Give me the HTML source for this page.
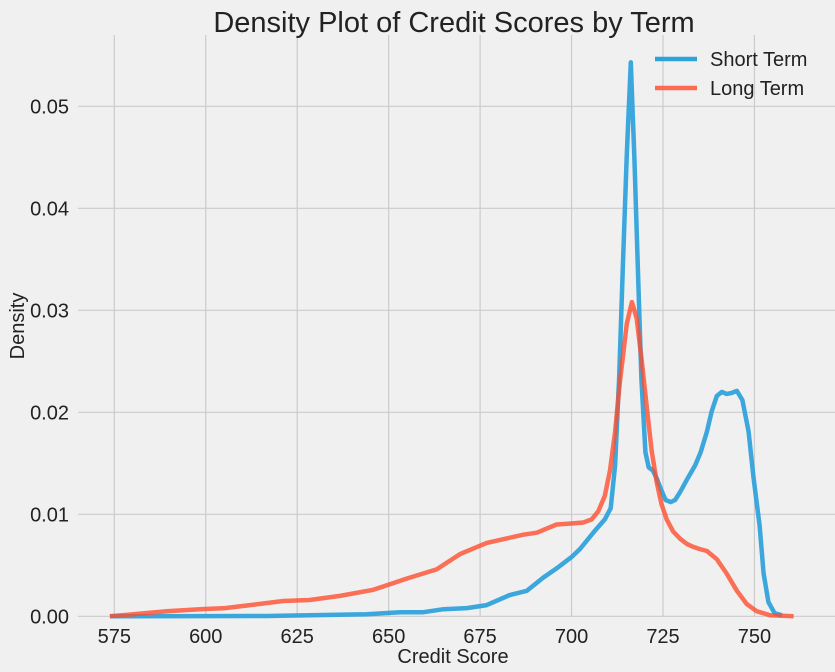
<!DOCTYPE html>
<html><head><meta charset="utf-8"><style>
body{margin:0;background:#f0f0f0;}
svg{display:block;font-family:"Liberation Sans",sans-serif;}
</style></head><body>
<svg id="c" width="835" height="672" xmlns="http://www.w3.org/2000/svg">
<rect width="835" height="672" fill="#f0f0f0"/>
<g id="grid"></g>
<g id="series"></g>
<g id="labels"></g>
<text x="454" y="32" text-anchor="middle" font-size="29" fill="#222">Density Plot of Credit Scores by Term</text>
<text x="453" y="663" text-anchor="middle" font-size="20" fill="#222">Credit Score</text>
<text transform="translate(24,326) rotate(-90)" text-anchor="middle" font-size="20" fill="#222">Density</text>
<g>
<g><line x1="655" y1="59" x2="697" y2="59" stroke="#30a2da" stroke-width="4.5"/><text x="710" y="66" font-size="20" fill="#222">Short Term</text></g>
<g><line x1="655" y1="88" x2="697" y2="88" stroke="#fc6a50" stroke-width="4.5"/><text x="710" y="95" font-size="20" fill="#222">Long Term</text></g>
</g>
</svg>
<script>
const xTicks=[575,600,625,650,675,700,725,750];
const yTicks=[0,0.01,0.02,0.03,0.04,0.05];
const yTickLabels=["0.00","0.01","0.02","0.03","0.04","0.05"];
const shortX=[573.8,616.7,644,653.2,659.5,665,671.4,676.8,683.2,687.8,692.3,695.9,700,702.3,706.4,709.1,710.7,711.9,713.0,714.1,715.1,716.2,717.2,718.1,719.1,720.2,721.1,722.2,723.3,724.5,725.7,727.1,728.3,729.7,731.7,733.8,735.3,737.0,738.3,739.7,741.1,742.4,743.8,745.2,746.7,748.4,749.7,751.4,752.5,753.8,755.5,757.5];
const shortY=[0,0.00003,0.0002,0.0004,0.0004,0.0007,0.0008,0.0011,0.0021,0.0025,0.0038,0.0047,0.0058,0.0066,0.0084,0.0095,0.0106,0.0148,0.0233,0.035,0.0453,0.0543,0.0446,0.0343,0.0233,0.0161,0.0146,0.0143,0.0135,0.0124,0.0114,0.0112,0.0114,0.0122,0.0135,0.0148,0.0161,0.0181,0.0201,0.0216,0.022,0.0218,0.0219,0.0221,0.0212,0.0181,0.0137,0.0089,0.0042,0.0014,0.0003,0.0001];
const longX=[573.8,580.2,589.3,598.4,605.3,612.1,621.2,628.4,636.7,645.8,654.9,663.1,669.5,676.8,686.8,690.5,695.9,700,703.2,705.5,707.3,709.1,710.5,711.9,713.2,715.1,716.5,717.8,719.2,720.6,721.9,723.3,724.6,726.0,727.8,729.7,731.5,733.3,735.0,737.0,739.7,742.4,745.2,747.9,750.6,754.3,760.7];
const longY=[0,0.0002,0.0005,0.0007,0.0008,0.0011,0.0015,0.0016,0.0020,0.0026,0.0037,0.0046,0.0061,0.0072,0.0080,0.0082,0.0090,0.0091,0.0092,0.0095,0.0103,0.0118,0.0143,0.0181,0.0229,0.0287,0.0308,0.0292,0.0250,0.0204,0.0162,0.0131,0.0110,0.0095,0.0083,0.0076,0.0071,0.0068,0.0066,0.0064,0.0056,0.0042,0.0025,0.0012,0.0005,0.0001,0];
const sx=v=>114.3+(v-575)*3.658;
const sy=v=>616.3-v*10200;
const NS="http://www.w3.org/2000/svg";
const grid=document.getElementById('grid'),lab=document.getElementById('labels'),ser=document.getElementById('series');
function mk(t,a,p){const e=document.createElementNS(NS,t);for(const k in a)e.setAttribute(k,a[k]);p.appendChild(e);return e;}
xTicks.forEach(t=>{
 const l=mk('line',{x1:sx(t),x2:sx(t),y1:35,y2:616,stroke:'#cbcbcb','stroke-width':1.2},grid);
 
 
 const tx=mk('text',{x:sx(t),y:643,'text-anchor':'middle','font-size':20,fill:'#222'},lab);
 tx.textContent=t;
 
 
});
yTicks.forEach((t,i)=>{
 const l=mk('line',{x1:78,x2:835,y1:sy(t),y2:sy(t),stroke:'#cbcbcb','stroke-width':1.2},grid);
 
 
 const tx=mk('text',{x:69,y:sy(t)+7,'text-anchor':'end','font-size':20,fill:'#222'},lab);
 tx.textContent=yTickLabels[i];
 
 
});
function pts(xs,ys){return xs.map((x,i)=>sx(x).toFixed(1)+','+sy(ys[i]).toFixed(1)).join(' ');}
const pS=mk('polyline',{points:pts(shortX,shortY),fill:'none',stroke:'#30a2da','stroke-width':4.5,'stroke-opacity':0.95,'stroke-linejoin':'round'},ser);


const pL=mk('polyline',{points:pts(longX,longY),fill:'none',stroke:'#fc4f30','stroke-width':4.5,'stroke-opacity':0.8,'stroke-linejoin':'round'},ser);


</script>
</body></html>
